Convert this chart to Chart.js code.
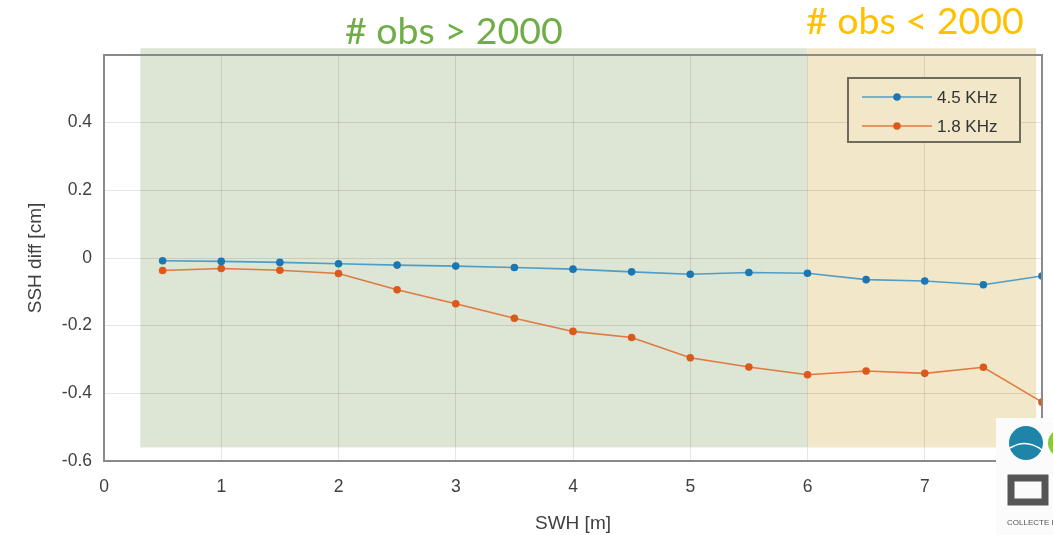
<!DOCTYPE html>
<html>
<head>
<meta charset="utf-8">
<script src="https://cdn.jsdelivr.net/npm/chart.js@4/dist/chart.umd.min.js"></script>
<style>
  html, body { margin: 0; padding: 0; background: #fff; }
  #wrap { position: relative; width: 1053px; height: 535px; }
  .band-title { position: absolute; font-family: Lato, "Open Sans", sans-serif; font-size: 37.5px; white-space: nowrap; }
</style>
</head>
<body>
<div id="wrap">
  <canvas id="myChart" width="1053" height="535"></canvas>
  <div class="band-title" style="left:345px; top:7px; color:#70ad47;"># obs &gt; 2000</div>
  <div class="band-title" style="left:806px; top:-3px; color:#ffc000;"># obs &lt; 2000</div>
</div>
<script>
  /* Chart data
  -----------------------------------------------*/
  const swh = [0.5, 1, 1.5, 2, 2.5, 3, 3.5, 4, 4.5, 5, 5.5, 6, 6.5, 7, 7.5, 8];
  const ssh45 = [-0.008, -0.010, -0.013, -0.017, -0.021, -0.024, -0.028, -0.033, -0.041, -0.048, -0.043, -0.045, -0.064, -0.068, -0.079, -0.053];
  const ssh18 = [-0.037, -0.031, -0.036, -0.046, -0.094, -0.135, -0.178, -0.217, -0.235, -0.295, -0.322, -0.345, -0.334, -0.341, -0.323, -0.426];
  const seriesNames = ['4.5 KHz', '1.8 KHz'];
  const xTicks = [0, 1, 2, 3, 4, 5, 6, 7, 8];
  const yTicks = [-0.6, -0.4, -0.2, 0, 0.2, 0.4, 0.6];

  // shaded bands in data units: [xFrom, xTo, yFrom, yTo]
  const greenBand = [0.31, 6, -0.56, 0.62];
  const yellowBand = [6, 7.95, -0.56, 0.62];

  function toPoints(ys) {
    return swh.map((x, i) => ({ x: x, y: ys[i] }));
  }

  const blueLine = 'rgba(60,150,200,0.9)';
  const blueDot = '#1a77b5';
  const orangeLine = 'rgba(222,110,50,0.9)';
  const orangeDot = '#d95a1a';

  // Background bands, frame, legend box and logo
  const decor = {
    id: 'decor',
    beforeDraw(chart) {
      const { ctx, scales: { x, y } } = chart;
      ctx.save();
      [[greenBand, '#dde5d4'], [yellowBand, '#f2e8c9']].forEach(([b, c]) => {
        const x1 = x.getPixelForValue(b[0]), x2 = x.getPixelForValue(b[1]);
        const y1 = y.getPixelForValue(b[3]), y2 = y.getPixelForValue(b[2]);
        ctx.fillStyle = c;
        ctx.fillRect(x1, y1, x2 - x1, y2 - y1);
      });
      ctx.restore();
    },
    afterDraw(chart) {
      const { ctx, chartArea: a } = chart;
      ctx.save();
      // top and right frame
      ctx.strokeStyle = '#8a8a8a';
      ctx.lineWidth = 2;
      ctx.beginPath();
      ctx.moveTo(a.left, a.top);
      ctx.lineTo(a.right, a.top);
      ctx.lineTo(a.right, a.bottom);
      ctx.stroke();

      // legend
      const lx = 848, ly = 78, lw = 172, lh = 64;
      ctx.fillStyle = '#f2e8c9';
      ctx.fillRect(lx, ly, lw, lh);
      ctx.strokeStyle = '#6e6a5e';
      ctx.lineWidth = 2;
      ctx.strokeRect(lx, ly, lw, lh);
      const rows = [[blueLine, blueDot, 97], [orangeLine, orangeDot, 126]];
      ctx.font = '17px "Liberation Sans", Arial, sans-serif';
      ctx.textBaseline = 'middle';
      rows.forEach(([lc, dc, ry], i) => {
        ctx.strokeStyle = lc;
        ctx.lineWidth = 1.5;
        ctx.beginPath();
        ctx.moveTo(862, ry);
        ctx.lineTo(932, ry);
        ctx.stroke();
        ctx.fillStyle = dc;
        ctx.beginPath();
        ctx.arc(897, ry, 3.8, 0, Math.PI * 2);
        ctx.fill();
        ctx.fillStyle = '#333';
        ctx.fillText(seriesNames[i], 937, ry + 1);
      });

      // logo panel bottom right
      ctx.fillStyle = '#fbfbfb';
      ctx.fillRect(996, 418, 57, 117);
      ctx.fillStyle = '#1f85a8';
      ctx.beginPath();
      ctx.arc(1026, 443, 17, 0, Math.PI * 2);
      ctx.fill();
      ctx.strokeStyle = '#ffffff';
      ctx.lineWidth = 1.5;
      ctx.beginPath();
      ctx.moveTo(1010, 448);
      ctx.quadraticCurveTo(1026, 438, 1042, 450);
      ctx.stroke();
      ctx.fillStyle = '#8dc63f';
      ctx.beginPath();
      ctx.arc(1062, 443, 14, 0, Math.PI * 2);
      ctx.fill();
      ctx.strokeStyle = '#555';
      ctx.lineWidth = 7;
      ctx.strokeRect(1011, 478, 34, 24);
      ctx.fillStyle = '#555';
      ctx.font = '8px "Liberation Sans", sans-serif';
      ctx.fillText('COLLECTE LOC', 1007, 523);
      ctx.restore();
    }
  };

  function charVisual() {
    let ctx = document.getElementById('myChart').getContext('2d');
    let myChart = new Chart(ctx, {
      type: 'scatter',
      data: {
        datasets: [{
          label: seriesNames[0],
          data: toPoints(ssh45),
          showLine: true,
          borderColor: blueLine,
          backgroundColor: blueDot,
          pointBackgroundColor: blueDot,
          pointBorderWidth: 0,
          pointRadius: 3.8,
          borderWidth: 1.6
        }, {
          label: seriesNames[1],
          data: toPoints(ssh18),
          showLine: true,
          borderColor: orangeLine,
          backgroundColor: orangeDot,
          pointBackgroundColor: orangeDot,
          pointBorderWidth: 0,
          pointRadius: 3.8,
          borderWidth: 1.6
        }]
      },
      options: {
        responsive: false,
        animation: false,
        layout: { padding: { left: 0, top: 55, right: 11, bottom: 0 } },
        plugins: {
          legend: { display: false },
          tooltip: { enabled: false }
        },
        scales: {
          x: {
            type: 'linear',
            min: 0, max: 8,
            afterBuildTicks: s => { s.ticks = xTicks.map(v => ({ value: v })); },
            afterFit: s => {
              s.height = 74;
              s.paddingLeft = 0;
              s.paddingRight = 0;
            },
            grid: { color: 'rgba(0,0,0,0.1)', drawTicks: false },
            border: { color: '#8a8a8a', width: 2 },
            ticks: {
              color: '#404040',
              padding: 16,
              font: { family: '"Liberation Sans", Arial, sans-serif', size: 17.5 },
              // last label sits under the logo
              callback: v => (v === 8 ? '' : String(v))
            },
            title: {
              display: true,
              text: 'SWH [m]',
              color: '#404040',
              padding: { top: 0, bottom: 0 },
              font: { family: '"Liberation Sans", Arial, sans-serif', size: 19 }
            }
          },
          y: {
            min: -0.6, max: 0.6,
            afterBuildTicks: s => { s.ticks = yTicks.map(v => ({ value: v })); },
            afterFit: s => {
              s.width = 104;
              s.paddingTop = 0;
              s.paddingBottom = 0;
            },
            grid: { color: 'rgba(0,0,0,0.1)', drawTicks: false },
            border: { color: '#8a8a8a', width: 2 },
            ticks: {
              color: '#404040',
              padding: 12,
              font: { family: '"Liberation Sans", Arial, sans-serif', size: 17.5 },
              callback: v => {
                const r = Math.round(v * 10) / 10;
                return r === 0.6 ? '' : String(r);
              }
            },
            title: {
              display: true,
              text: 'SSH diff [cm]',
              color: '#404040',
              padding: { top: 24, bottom: 0 },
              font: { family: '"Liberation Sans", Arial, sans-serif', size: 19 }
            }
          }
        }
      },
      plugins: [decor]
    });
  }
  charVisual();
</script>
</body>
</html>
